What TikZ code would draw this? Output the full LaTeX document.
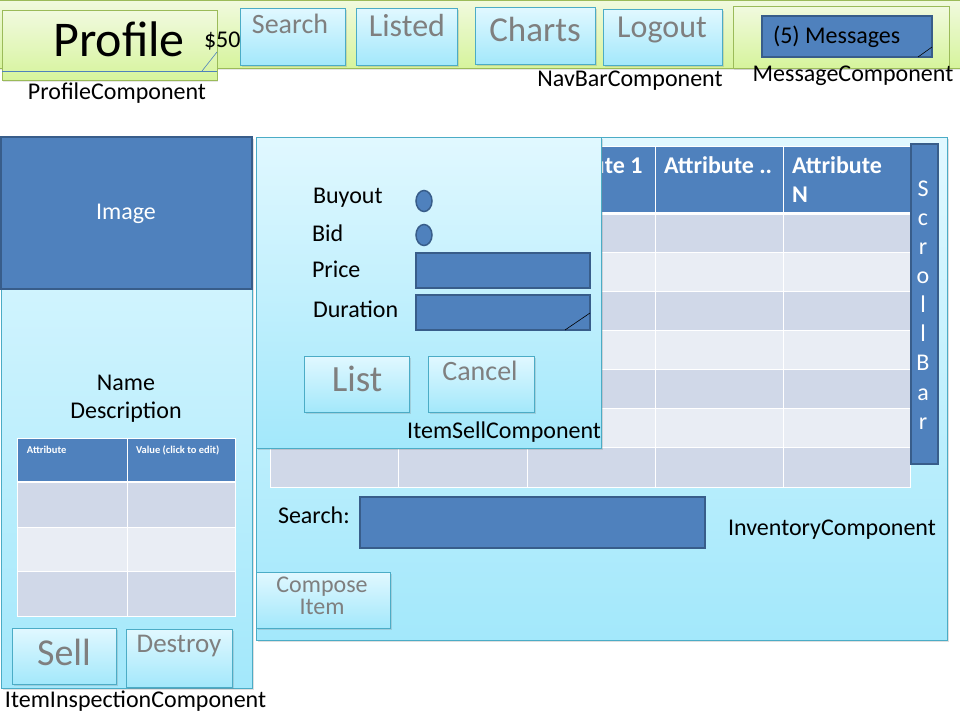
\documentclass[tikz,border=0pt]{standalone}
\usepackage{fontspec}
\setmainfont{Carlito}
\usetikzlibrary{shapes.geometric,shadows}
\definecolor{bluefill}{HTML}{4F81BD}
\definecolor{bluedark}{HTML}{385D8A}
\definecolor{cyantop}{HTML}{E1F8FF}
\definecolor{cyanbot}{HTML}{A3E8FB}
\definecolor{cyanline}{HTML}{4BACC6}
\definecolor{greentop}{HTML}{F1FADF}
\definecolor{greenbot}{HTML}{D6F49C}
\definecolor{greenline}{HTML}{9BBB59}
\definecolor{rowdark}{HTML}{D0D8E8}
\definecolor{rowlight}{HTML}{E9EDF4}
\definecolor{btngray}{HTML}{7F7F7F}
\newcommand{\fsz}[1]{\fontsize{#1}{#1}\selectfont}
\begin{document}
\begin{tikzpicture}[x=1pt,y=-1pt,
		every node/.style={inner sep=0pt,outer sep=0pt,font=\fsz{24}},
		wh/.style 2 args={minimum width=#1pt,minimum height=#2pt},
		txt/.style={anchor=base},
		barbox/.style={draw=greenline,top color=greentop,bottom color=greenbot,anchor=north west,drop shadow={opacity=0.2,shadow xshift=1pt,shadow yshift=-2pt}},
		panel/.style={draw=cyanline,top color=cyantop,bottom color=cyanbot,anchor=north west,drop shadow={opacity=0.25,shadow xshift=1.5pt,shadow yshift=-1.5pt}},
		field/.style={draw=bluedark,line width=2pt,fill=bluefill,anchor=north west},
		btntext/.style={anchor=base,text=btngray},
		hdr/.style={anchor=base west,text=white,font=\bfseries\fsz{24}},
		minihdr/.style={anchor=base west,text=white,font=\bfseries\fsz{10.5}},
		radio/.style={ellipse,draw=bluedark,line width=1.5pt,fill=bluefill,minimum width=16pt,minimum height=21pt},
		grip/.style={line width=0.6pt}]
	\useasboundingbox (0,0) rectangle (960,720);
	% top bar
	\node[barbox,wh={966}{68}] (bar) at (-3,0) {};
	\node[panel,wh={105}{57}] (search) at (240,8) {};
	\node[btntext,font=\fsz{28}] (searchtxt) at (290,33) {Search};
	\node[panel,wh={101}{57}] (listed) at (356,8) {};
	\node[btntext,font=\fsz{32}] (listedtxt) at (407,36) {Listed};
	\node[panel,wh={120}{57}] (charts) at (475,7) {};
	\node[btntext,font=\fsz{35}] (chartstxt) at (535,41) {Charts};
	\node[panel,wh={119}{56}] (logout) at (603,9) {};
	\node[btntext,font=\fsz{32}] (logouttxt) at (662,37) {Logout};
	\node[txt] (navbar) at (630,86) {NavBarComponent};
	% profile
	\node[barbox,wh={215}{70}] (profile) at (2,10) {};
	\draw[bluefill,grip] ([yshift=9pt]profile.south west) -- ([yshift=9pt]profile.south east);
	\draw[bluefill,grip] ([xshift=-15pt,yshift=9pt]profile.south east) -- ([yshift=28pt]profile.south east);
	\node[txt,font=\fsz{50}] (profiletxt) at (119,56) {Profile};
	\node[anchor=base west] (money) at (204,47) {\$50};
	\node[txt] (profilecomp) at (117,99) {ProfileComponent};
	% messages
	\node[barbox,wh={216}{62}] (msgbox) at (733,6) {};
	\node[field,wh={170}{41}] (msg) at (762,16) {};
	\draw[grip] ([xshift=-14pt]msg.south east) -- ([yshift=10pt]msg.south east);
	\node[anchor=base west] (msgtxt) at (773,43) {(5) Messages};
	\node[txt] (msgcomp) at (853,81) {MessageComponent};

	% item inspection
	\node[panel,wh={251}{551}] (inspect) at (1,137) {};
	\node[field,wh={251}{152}] (image) at (1,137) {};
	\node[txt,text=white] (imagetxt) at (126,219) {Image};
	\node[txt] (name) at (126,390) {Name};
	\node[txt] (descr) at (126,418) {Description};
	\fill[bluefill] (17,438) rectangle (235,481);
	\fill[rowdark] (17,483) rectangle (235,616);
	\fill[rowlight] (17,527) rectangle (235,571);
	\draw[white,line width=1pt] (17,527) -- (235,527) (17,571) -- (235,571) (127,438) -- (127,616);
	\draw[white,line width=1pt] (17,438) rectangle (235,616);
	\draw[white,line width=2.5pt] (17,482) -- (235,482);
	\node[minihdr] (attrhdr) at (27,453) {Attribute};
	\node[minihdr] (valuehdr) at (136,453) {Value (click to edit)};
	\node[panel,wh={104}{56}] (sell) at (12,628) {};
	\node[btntext,font=\fsz{38}] (selltxt) at (64,665) {Sell};
	\node[panel,wh={106}{58}] (destroy) at (126,629) {};
	\node[btntext,font=\fsz{27}] (destroytxt) at (179,652) {Destroy};
	\node[anchor=base west] (inspectcomp) at (5,707) {ItemInspectionComponent};

	% inventory
	\node[panel,wh={691}{503}] (inventory) at (256,137) {};
	\fill[bluefill] (270,146) rectangle (910,212);
	\fill[rowdark] (270,212) rectangle (910,487);
	\fill[rowlight] (270,252) rectangle (910,291);
	\fill[rowlight] (270,330) rectangle (910,369);
	\fill[rowlight] (270,408) rectangle (910,447);
	\draw[white,line width=1pt] (270,252) -- (910,252) (270,291) -- (910,291) (270,330) -- (910,330)
		(270,369) -- (910,369) (270,408) -- (910,408) (270,447) -- (910,447);
	\draw[white,line width=1pt] (398,146) -- (398,487) (527,146) -- (527,487) (655,146) -- (655,487) (783,146) -- (783,487);
	\draw[white,line width=1pt] (270,146) rectangle (910,487);
	\draw[white,line width=3pt] (270,213) -- (910,213);
	\node[hdr] (attr1) at (535,173) {Attribute 1};
	\node[hdr] (attrdots) at (664,173) {Attribute ..};
	\node[hdr] (attrn) at (792,173) {Attribute};
	\node[hdr] (attrnn) at (792,202) {N};
	\node[field,line width=2.5pt,wh={27}{320}] (scroll) at (911,144) {};
	\node[text=white,align=center,font=\fontsize{24}{29.1}\selectfont] (scrolltxt) at (923,305) {S\\c\\r\\o\\l\\l\\B\\a\\r};
	\node[anchor=base west] (searchlbl) at (278,523) {Search:};
	\node[field,wh={345}{51}] (searchfield) at (360,497) {};
	\node[txt] (invcomp) at (832,535) {InventoryComponent};
	\node[panel,wh={134}{56}] (compose) at (256,572) {};
	\node[text=btngray,align=center,font=\fontsize{24}{22}\selectfont] (composetxt) at (322,596) {Compose\\Item};

	% item sell
	\node[panel,wh={345}{311}] (itemsell) at (256,137) {};
	\node[anchor=base west] (buyouttxt) at (313,203) {Buyout};
	\node[radio] (buyout) at (424,201) {};
	\node[anchor=base west] (bidtxt) at (312,241) {Bid};
	\node[radio] (bid) at (424,235) {};
	\node[anchor=base west] (pricetxt) at (312,277) {Price};
	\node[field,wh={174}{35}] (price) at (416,253) {};
	\node[anchor=base west] (durationtxt) at (313,317) {Duration};
	\node[field,wh={174}{35}] (duration) at (416,295) {};
	\draw[grip] ([xshift=-25pt]duration.south east) -- ([yshift=17pt]duration.south east);
	\node[panel,wh={105}{56}] (list) at (304,356) {};
	\node[btntext,font=\fsz{37}] (listtxt) at (357,391) {List};
	\node[panel,wh={106}{56}] (cancel) at (428,356) {};
	\node[btntext,font=\fsz{28}] (canceltxt) at (480,380) {Cancel};
	\node[anchor=base east] (sellcomp) at (601,438) {ItemSellComponent};
\end{tikzpicture}
\end{document}
